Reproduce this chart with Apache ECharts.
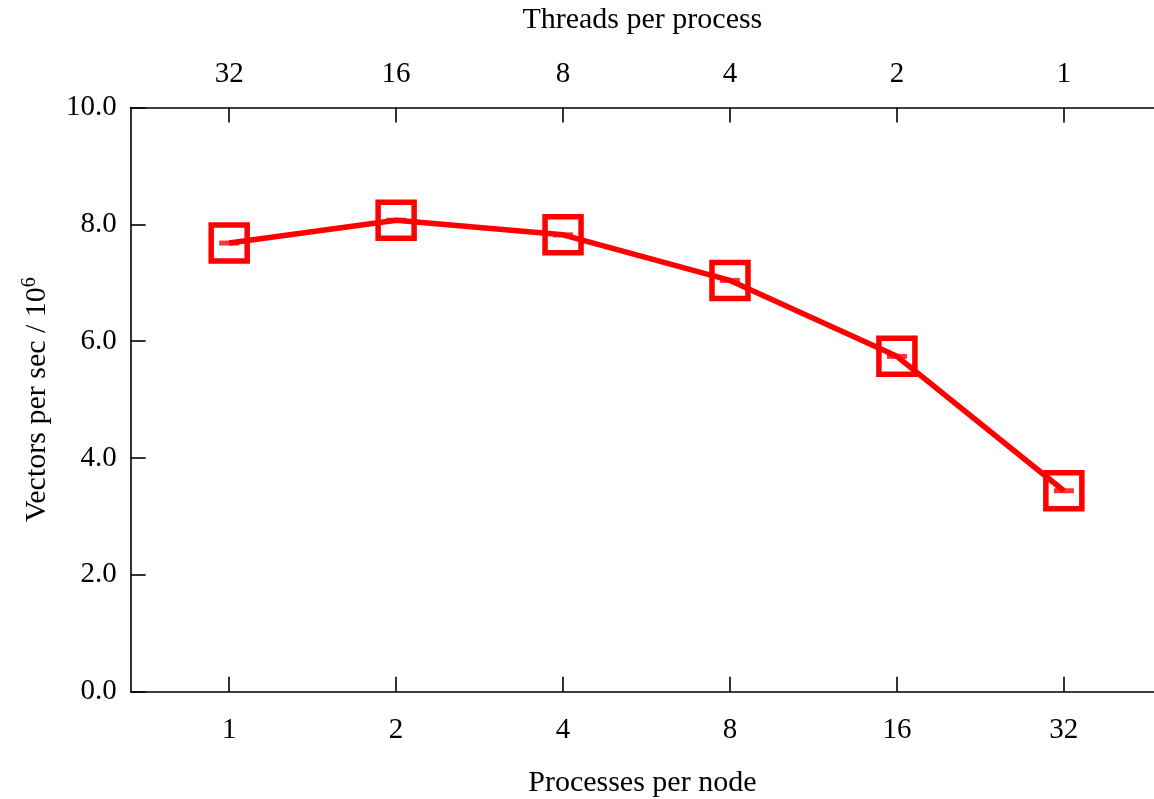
<!DOCTYPE html>
<html>
<head>
<meta charset="utf-8">
<script src="https://cdn.jsdelivr.net/npm/echarts@6/dist/echarts.min.js"></script>
<style>
html,body{margin:0;padding:0;background:#fff;}
#c{width:1154px;height:799px;}
</style>
</head>
<body>
<div id="c"></div>
<script>
const processesPerNode = ['1', '2', '4', '8', '16', '32'];
const threadsPerProcess = ['32', '16', '8', '4', '2', '1'];
const vectorsPerSec = [7.68, 8.07, 7.82, 7.04, 5.74, 3.44];
const yTicks = [0, 2, 4, 6, 8, 10];

const FONT = 'Liberation Serif';
const positions = processesPerNode.map((_, i) => i);
const seriesData = vectorsPerSec.map((v, i) => [i, v]);

const chart = echarts.init(document.getElementById('c'), null, {renderer: 'canvas'});
const axisLineStyle = {color: '#000', width: 1.6};

chart.setOption({
  animation: false,
  backgroundColor: '#fff',
  grid: {left: 130.7, right: 0, top: 107.5, bottom: 107.3, containLabel: false, outerBoundsMode: 'none'},
  xAxis: [
    {
      type: 'value', position: 'bottom', min: -0.59, max: 5.54,
      name: 'Processes per node', nameLocation: 'middle', nameGap: 76,
      nameTextStyle: {fontFamily: FONT, fontSize: 30, color: '#000'},
      axisLine: {show: true, onZero: false, lineStyle: axisLineStyle},
      axisTick: {show: true, inside: true, length: 15, customValues: positions, lineStyle: axisLineStyle},
      axisLabel: {customValues: positions, margin: 24, fontFamily: FONT, fontSize: 29, color: '#000',
        formatter: v => processesPerNode[Math.round(v)]},
      splitLine: {show: false}
    },
    {
      type: 'value', position: 'top', min: -0.59, max: 5.54,
      name: 'Threads per process', nameLocation: 'middle', nameGap: 72,
      nameTextStyle: {fontFamily: FONT, fontSize: 30, color: '#000'},
      axisLine: {show: true, onZero: false, lineStyle: axisLineStyle},
      axisTick: {show: true, inside: true, length: 15, customValues: positions, lineStyle: axisLineStyle},
      axisLabel: {customValues: positions, margin: 19, fontFamily: FONT, fontSize: 29, color: '#000',
        formatter: v => threadsPerProcess[Math.round(v)]},
      splitLine: {show: false}
    }
  ],
  yAxis: {
    type: 'value', min: yTicks[0], max: yTicks[yTicks.length - 1], interval: 2,
    name: '{a|Vectors per sec / 10}{s|6}', nameLocation: 'middle', nameGap: 77, nameRotate: 90,
    nameTextStyle: {
      fontFamily: FONT, fontSize: 30, color: '#000',
      rich: {
        a: {fontFamily: FONT, fontSize: 30, color: '#000'},
        s: {fontFamily: FONT, fontSize: 20, color: '#000', padding: [0, 0, 14, 0]}
      }
    },
    axisLine: {show: true, onZero: false, lineStyle: axisLineStyle},
    axisTick: {show: true, inside: true, length: 15, lineStyle: axisLineStyle},
    axisLabel: {margin: 14, fontFamily: FONT, fontSize: 29, color: '#000', formatter: v => v.toFixed(1)},
    splitLine: {show: false}
  },
  series: [
    {
      type: 'line', xAxisIndex: 0, data: seriesData,
      lineStyle: {color: '#ff0000', width: 5.5},
      symbol: 'rect', symbolSize: 36, showSymbol: true,
      itemStyle: {color: 'rgba(0,0,0,0)', borderColor: '#ff0000', borderWidth: 5.5},
      z: 3
    },
    {
      type: 'scatter', xAxisIndex: 0, data: seriesData,
      symbol: 'rect', symbolSize: [20, 5],
      itemStyle: {color: '#ff0000'},
      z: 4
    }
  ]
});
</script>
</body>
</html>
